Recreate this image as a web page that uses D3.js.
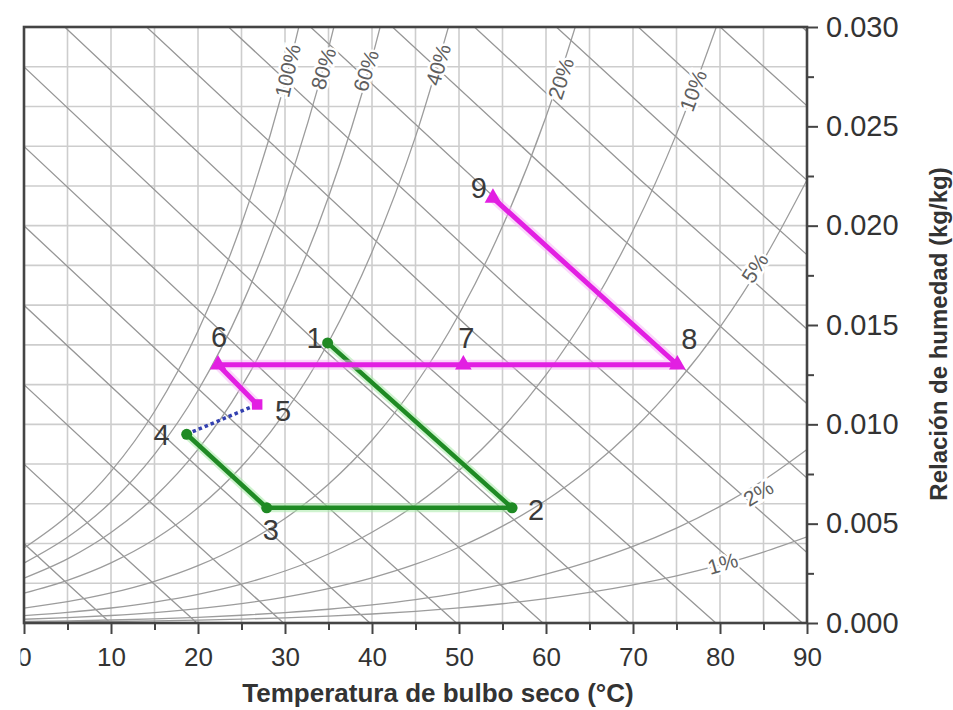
<!DOCTYPE html>
<html><head><meta charset="utf-8">
<script src="https://cdn.jsdelivr.net/npm/d3@7/dist/d3.min.js"></script>
<style>
body{margin:0;background:#fff}
svg{display:block}
text{font-family:"Liberation Sans",Arial,Helvetica,sans-serif}
</style>
</head><body>
<svg id="c" width="953" height="710"></svg>
<script>
// ---------------- data ----------------
// saturation pressure of water (steam table), kPa
const satTemps = [0,5,10,15,20,25,30,35,40,45,50,55,60,65,70,75,80,85,90];
const satPressureKPa = [0.6113,0.8721,1.2276,1.7051,2.339,3.169,4.246,5.628,7.384,9.593,12.349,15.758,19.940,25.03,31.19,38.58,47.39,57.83,70.14];
const atmPressureKPa = 101.325;
// relative-humidity curves and where their labels sit
const rhLevels   = [100, 80, 60, 40, 20, 10, 5, 2, 1];
const rhLabelTemp = [30.3, 34.4, 39.3, 47.6, 61.7, 76.9, 84.0, 84.4, 80.3];
const rhLabelHum  = [0.0278, 0.0279, 0.0278, 0.0281, 0.0274, 0.0268, 0.01787, 0.00654, 0.00300];
// constant-enthalpy lines, kJ/kg
const enthalpyLevels = [10,20,30,40,50,60,70,80,90,100,110,120,130,140,150,160,170];
// process states
const pointIds  = ["1","2","3","4","5","6","7","8","9"];
const pointTemp = [34.9, 56.1, 27.9, 18.7, 26.8, 22.3, 50.5, 75.1, 53.9];
const pointHum  = [0.0141, 0.0058, 0.0058, 0.0095, 0.0110, 0.0130, 0.0130, 0.0130, 0.0214];
const greenPath   = ["1","2","3","4"];
const dottedPath  = ["4","5"];
const magentaPath = ["5","6","7","8","9"];
// axes
const xTickValues = [0,10,20,30,40,50,60,70,80,90];
const xMinorTicks = [5,15,25,35,45,55,65,75,85];
const yTickValues = [0,0.005,0.010,0.015,0.020,0.025,0.030];
const yMinorTicks = [0.0025,0.0075,0.0125,0.0175,0.0225,0.0275];
const xTitle = "Temperatura de bulbo seco (°C)";
const yTitle = "Relación de humedad  (kg/kg)";

// ---------------- layout ----------------
const L=24, R=807, T=27, B=623;
const labelOffsets = {"1":[-13,-5],"2":[24,2],"3":[4,22],"4":[-25,1],"5":[26,7],"6":[1,-28],"7":[3,-27],"8":[12,-26],"9":[-14,-10]};

const x = d3.scaleLinear().domain([0,90]).range([L,R]);
const y = d3.scaleLinear().domain([0,0.03]).range([B,T]);
const svg = d3.select("#c");
svg.append("rect").attr("width",953).attr("height",710).attr("fill","#fff");
svg.append("defs").append("clipPath").attr("id","plot")
  .append("rect").attr("x",L).attr("y",T).attr("width",R-L).attr("height",B-T);
const plot = svg.append("g").attr("clip-path","url(#plot)");

// grid
plot.append("g").selectAll("line").data(x.ticks(18)).join("line")
  .attr("x1",d=>x(d)).attr("x2",d=>x(d)).attr("y1",T).attr("y2",B)
  .attr("stroke","#cdcdcd").attr("stroke-width",1.6);
plot.append("g").selectAll("line").data(y.ticks(12)).join("line")
  .attr("y1",d=>y(d)).attr("y2",d=>y(d)).attr("x1",L).attr("x2",R)
  .attr("stroke","#cdcdcd").attr("stroke-width",1.6);

// enthalpy lines
const tAtW = (h,w) => (h-2501*w)/(1.006+1.86*w);
const wAtT = (h,t) => (h-1.006*t)/(2501+1.86*t);
plot.append("g").selectAll("path").data(enthalpyLevels).join("path")
  .attr("d", h => {
    const t0 = Math.max(0, tAtW(h,0.03)), t1 = Math.min(90, tAtW(h,0));
    const tm = (t0+t1)/2;
    return d3.line().x(d=>x(d[0])).y(d=>y(d[1]))([[t0,wAtT(h,t0)],[tm,wAtT(h,tm)],[t1,wAtT(h,t1)]]);
  })
  .attr("fill","none").attr("stroke","#969696").attr("stroke-width",1.3);

// RH curves
const humRatio = (ps,rh) => { const pv = ps*rh/100; return 0.622*pv/(atmPressureKPa-pv); };
const rhPoints = rh => {
  const pts=[];
  for (let i=0;i<satTemps.length;i++){
    const w = humRatio(satPressureKPa[i],rh);
    pts.push([satTemps[i],w]);
    if (w>0.03) break;
  }
  return pts;
};
const rhLine = d3.line().x(d=>x(d[0])).y(d=>y(d[1])).curve(d3.curveMonotoneX);
plot.append("g").selectAll("path").data(rhLevels).join("path")
  .attr("d", rh => rhLine(rhPoints(rh)))
  .attr("fill","none").attr("stroke","#9c9c9c").attr("stroke-width",1.3);

// RH labels
rhLevels.forEach((rh,k)=>{
  const t = rhLabelTemp[k];
  let i = satTemps.findIndex((v,j)=> j<satTemps.length-1 && t>=v && t<satTemps[j+1]);
  const xa=x(satTemps[i]), xb=x(satTemps[i+1]);
  const ya=y(humRatio(satPressureKPa[i],rh)), yb=y(humRatio(satPressureKPa[i+1],rh));
  const ang = Math.atan2(yb-ya, xb-xa)*180/Math.PI;
  plot.append("text")
    .attr("transform",`translate(${x(t)},${y(rhLabelHum[k])}) rotate(${ang})`)
    .attr("text-anchor","middle").attr("dominant-baseline","central")
    .attr("font-size",21).attr("fill","#5e5e5e")
    .attr("stroke","#fff").attr("stroke-width",5).attr("paint-order","stroke")
    .text(rh+"%");
});

// frame
svg.append("rect").attr("x",L).attr("y",T).attr("width",R-L).attr("height",B-T)
  .attr("fill","none").attr("stroke","#444").attr("stroke-width",2.6);

// x axis
const styleAxis = g => { g.select(".domain").remove(); g.selectAll("line").attr("stroke","#444").attr("stroke-width",2); };
svg.append("g").attr("transform",`translate(0,${B})`)
  .call(d3.axisBottom(x).tickValues(xMinorTicks).tickSize(7).tickFormat(""))
  .call(styleAxis);
svg.append("g").attr("transform",`translate(0,${B})`)
  .call(d3.axisBottom(x).tickValues(xTickValues).tickSize(11).tickPadding(14).tickFormat(d3.format("d")))
  .call(styleAxis)
  .call(g=>g.selectAll("text").attr("font-size",26).attr("fill","#333").attr("font-family",null));
// y axis (right)
svg.append("g").attr("transform",`translate(${R},0)`)
  .call(d3.axisRight(y).tickValues(yMinorTicks).tickSize(7).tickFormat(""))
  .call(styleAxis);
svg.append("g").attr("transform",`translate(${R},0)`)
  .call(d3.axisRight(y).tickValues(yTickValues).tickSize(11).tickPadding(8).tickFormat(d3.format(".3f")))
  .call(styleAxis)
  .call(g=>g.selectAll("text").attr("font-size",29).attr("fill","#333").attr("font-family",null));
// clipped first label edge as in the source image
svg.append("rect").attr("x",0).attr("y",636).attr("width",20.5).attr("height",40).attr("fill","#fff");

// titles
svg.append("text").attr("x",438).attr("y",702).attr("text-anchor","middle")
  .attr("font-size",26).attr("font-weight","bold").attr("fill","#333").text(xTitle);
svg.append("text").attr("transform","translate(947,334) rotate(-90)").attr("text-anchor","middle")
  .attr("font-size",24).attr("font-weight","bold").attr("fill","#333").text(yTitle);

// process paths
const P = id => { const i = pointIds.indexOf(id); return [x(pointTemp[i]), y(pointHum[i])]; };
const pl = d3.line();
const proc = svg.append("g");
proc.append("path").attr("d",pl(greenPath.map(P))).attr("fill","none")
  .attr("stroke","#a8eaa8").attr("stroke-width",9).attr("stroke-opacity",0.55).attr("stroke-linejoin","round");
proc.append("path").attr("d",pl(greenPath.map(P))).attr("fill","none")
  .attr("stroke","#1f8a24").attr("stroke-width",4.5).attr("stroke-linejoin","round");
proc.append("path").attr("d",pl(magentaPath.map(P))).attr("fill","none")
  .attr("stroke","#f7b4f7").attr("stroke-width",10).attr("stroke-opacity",0.5).attr("stroke-linejoin","round");
proc.append("path").attr("d",pl(magentaPath.map(P))).attr("fill","none")
  .attr("stroke","#e21fe2").attr("stroke-width",5).attr("stroke-linejoin","round");
proc.append("path").attr("d",pl(dottedPath.map(P))).attr("fill","none")
  .attr("stroke","#3340b0").attr("stroke-width",3.5).attr("stroke-dasharray","3.5,3");

// markers
proc.selectAll(".g").data(greenPath).join("circle")
  .attr("cx",d=>P(d)[0]).attr("cy",d=>P(d)[1]).attr("r",5.5).attr("fill","#1f8a24");
proc.selectAll(".m").data(magentaPath).join("path")
  .attr("transform",d=>`translate(${P(d)[0]},${P(d)[1]})`)
  .attr("d",d=> d3.symbol().type(d==="5"?d3.symbolSquare:d3.symbolTriangle).size(d==="5"?110:120)())
  .attr("fill","#e21fe2");

// point labels
svg.append("g").selectAll("text").data(pointIds).join("text")
  .attr("x",d=>P(d)[0]+labelOffsets[d][0]).attr("y",d=>P(d)[1]+labelOffsets[d][1])
  .attr("text-anchor","middle").attr("dominant-baseline","central")
  .attr("font-size",29).attr("fill","#3a3a3a").text(d=>d);
</script>
</body></html>
